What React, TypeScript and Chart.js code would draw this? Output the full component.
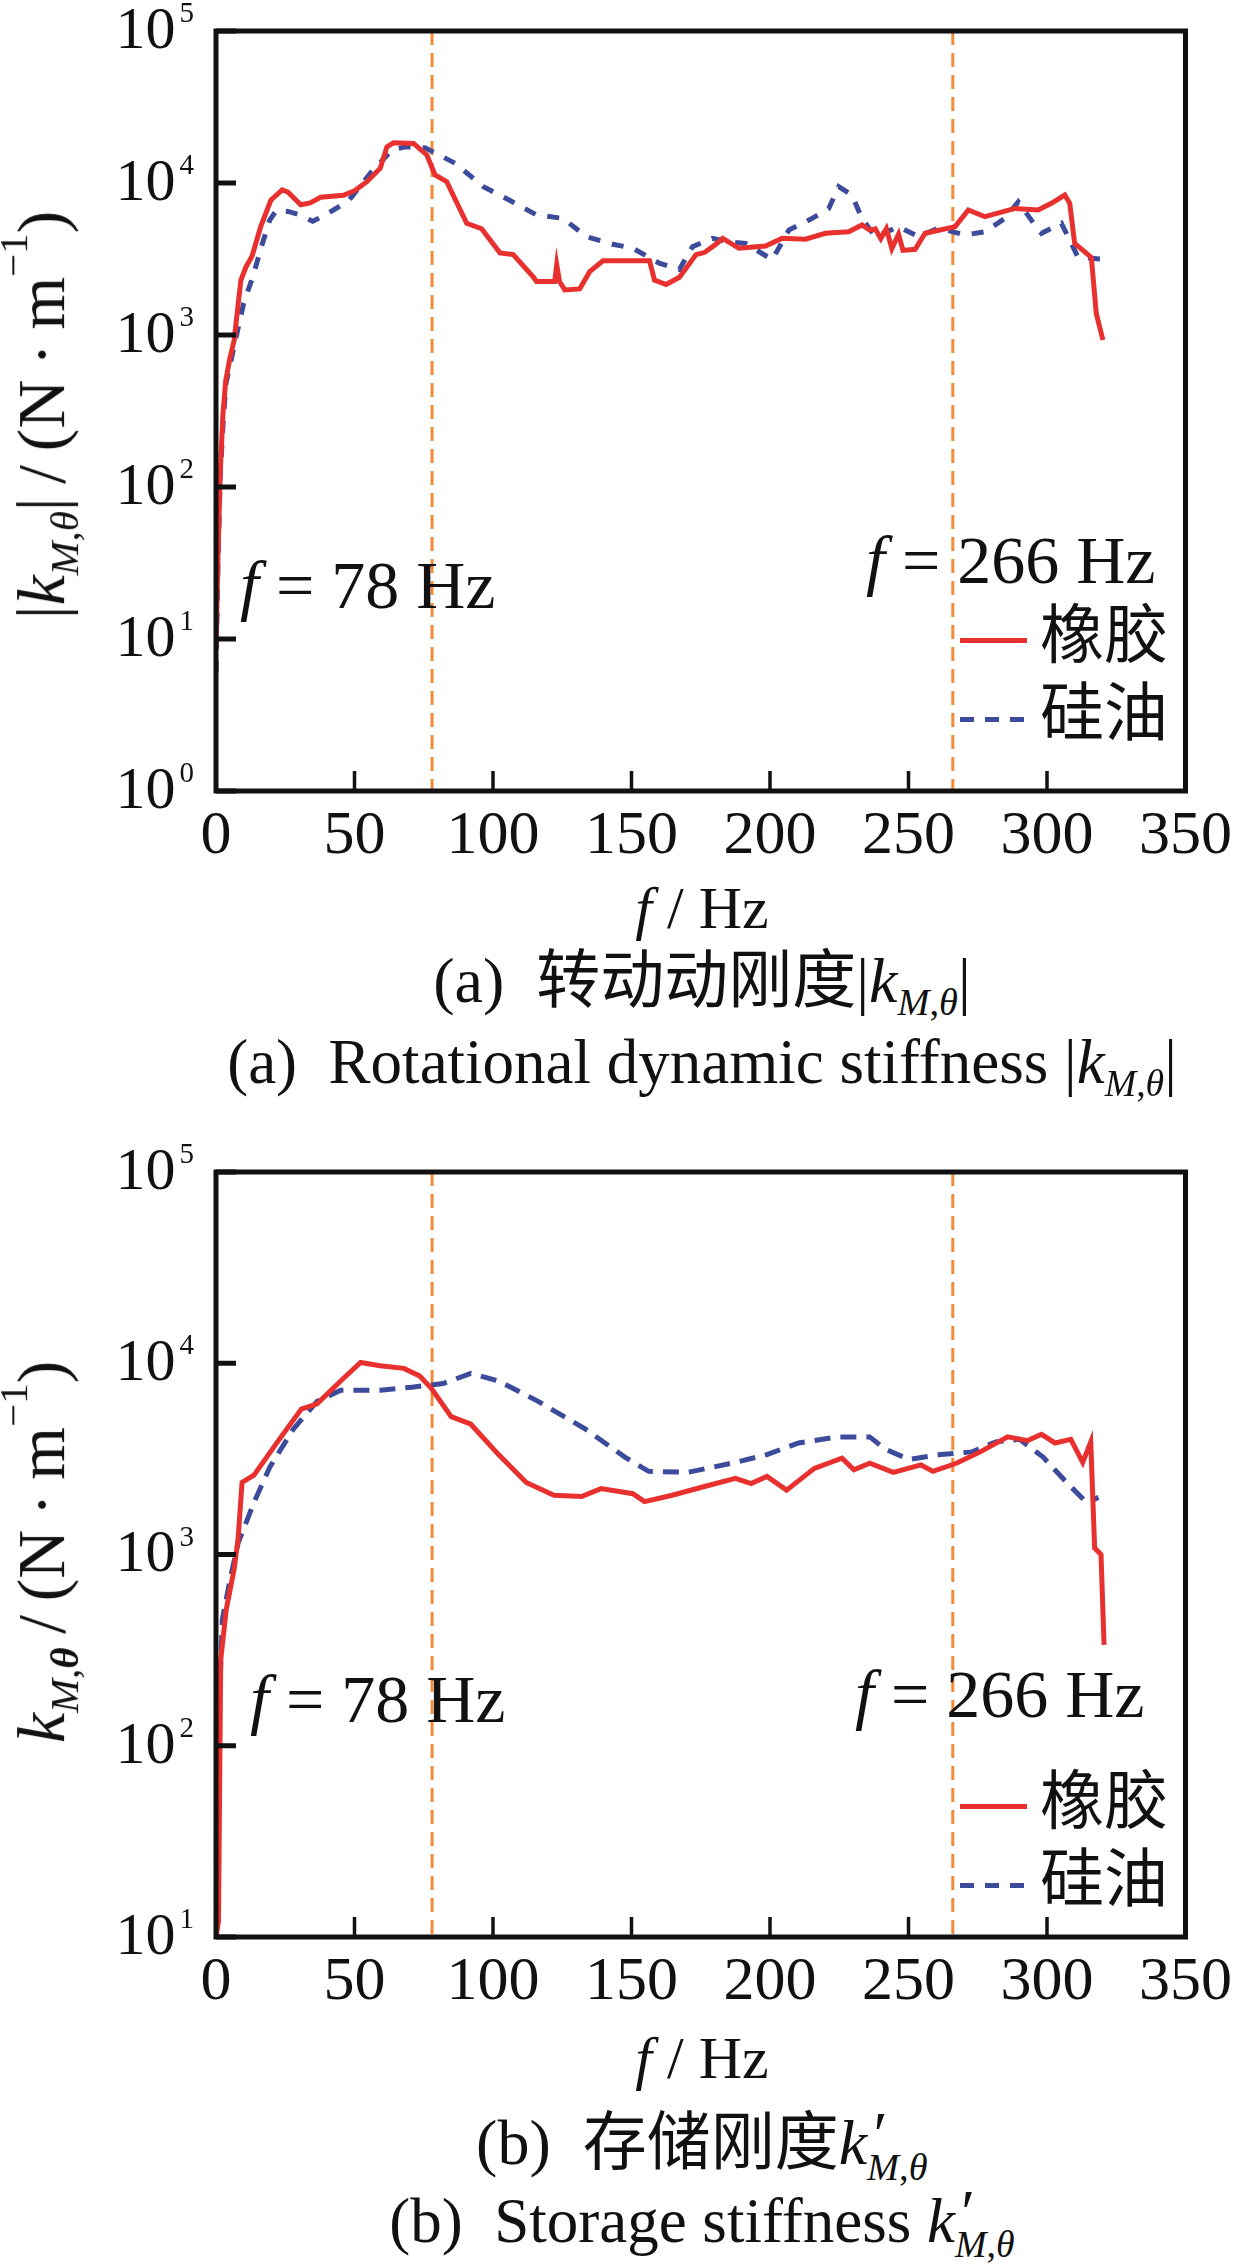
import { useEffect, useRef } from "react";
import { Chart, ChartConfiguration, registerables } from "chart.js";

Chart.register(...registerables);

const SERIF = "'Liberation Serif', 'Times New Roman', serif";
const MIXED = "'Liberation Serif', 'Noto Sans CJK SC', serif";
const INK = "#111";
const RED = "#e8312f";
const BLUE = "#3c4b9b";
const ORANGE = "#f28c3a";

// shared x axis
const xTicks = [0, 50, 100, 150, 200, 250, 300, 350];
const markerFreqs = [78, 266];

// (a) rotational dynamic stiffness |k_M,θ|
const rubberFreqA = [0, 0.8, 1.5, 2.5, 3.5, 5, 6.6, 8, 9, 10.8, 13, 16.2, 19.8, 23.9, 26, 30.6, 34, 37.8, 46, 50, 54.5, 59.3, 61.7, 64.1, 71.3, 76.1, 79.1, 83.3, 90.5, 95.9, 102.5, 107.3, 114.5, 115.7, 120.5, 122.3, 123, 124, 125.9, 131.3, 134.9, 139.7, 156.5, 158.3, 162.5, 167.3, 173.3, 176.5, 180.8, 182.9, 188.8, 198.4, 204.4, 212.8, 220, 228.4, 233.2, 236, 238, 240, 242, 244, 246.4, 248, 252.4, 256, 266.8, 271.6, 277.6, 288.4, 296.8, 301.6, 306.4, 308.2, 310, 316, 317.8, 320.2];
const rubberA = [9, 40, 120, 300, 500, 700, 930, 1600, 2300, 2800, 3300, 5200, 7700, 9000, 8700, 7200, 7400, 8050, 8300, 8900, 10200, 12500, 17300, 18400, 18200, 15300, 11300, 10200, 5430, 5000, 3470, 3380, 2410, 2250, 2250, 2250, 2900, 2250, 1980, 2010, 2610, 3080, 3080, 2300, 2150, 2400, 3380, 3500, 4000, 4330, 3720, 3850, 4330, 4270, 4670, 4780, 5300, 4900, 5000, 4300, 5000, 3700, 4600, 3600, 3660, 4670, 5160, 6640, 6000, 6800, 6640, 7350, 8330, 7350, 4000, 3240, 1380, 927];
const oilFreqA = [0, 0.7, 1.5, 2.5, 3.6, 7.6, 10, 13.4, 16.4, 19.4, 21.8, 26, 30.2, 34.9, 39.6, 48, 56.4, 63.6, 68.4, 75.6, 86.3, 96.5, 106, 115.7, 125.3, 133.7, 143.3, 150.5, 160, 167.3, 172, 179.2, 185, 191.2, 200.8, 206.8, 215.2, 221.2, 224.8, 229.6, 233.2, 238, 246.4, 253.6, 260.8, 270.4, 277.6, 284.8, 289.6, 295.6, 298, 305.2, 308.8, 311.2, 319.6];
const oilA = [6, 30, 117, 250, 480, 1030, 1620, 2450, 3810, 5710, 6600, 6500, 6170, 5600, 6170, 7700, 12000, 16500, 17300, 17000, 13500, 9450, 7700, 6170, 5850, 4440, 3950, 3720, 2970, 2700, 3810, 4330, 4100, 4000, 3130, 4900, 5850, 6800, 9450, 8330, 5850, 4440, 5160, 4440, 5050, 4550, 4780, 5850, 7520, 5300, 4670, 5430, 4000, 3240, 3160];
const decadesA = [1, 10, 100, 1000, 10000, 100000];

// (b) storage stiffness k'_M,θ
const rubberFreqB = [0, 0.9, 1.7, 3.7, 6.6, 8, 9.4, 13.7, 22.2, 30.8, 36.5, 45, 52.2, 59.3, 67.8, 73.5, 77.8, 84.9, 92, 102, 112, 122, 132, 139, 150.5, 154.7, 164.7, 176, 187.5, 193.2, 198.9, 206, 216, 226, 230.3, 236, 244.5, 254.5, 258.8, 267.3, 275.9, 285.8, 293, 298, 302.9, 308.6, 312.9, 315.8, 317.2, 319.5, 320.6];
const rubberB = [10, 12, 280, 516, 846, 1217, 2380, 2600, 3880, 5760, 6130, 8080, 10100, 9700, 9400, 8590, 7370, 5260, 4800, 3330, 2380, 2040, 2010, 2210, 2080, 1890, 2040, 2260, 2500, 2350, 2560, 2170, 2820, 3190, 2770, 3000, 2690, 2940, 2720, 3000, 3440, 4120, 3940, 4250, 3830, 4000, 3030, 3880, 1080, 1000, 337];
const oilFreqB = [0, 1.1, 2.3, 5.1, 8, 13.7, 19.4, 27.9, 36.5, 45, 59.3, 70.7, 82, 92, 102, 116.3, 133.4, 147.6, 156.2, 170.4, 187.5, 198.9, 210.3, 224.6, 236, 241.7, 250.2, 261.6, 273, 281.5, 290.1, 298.6, 307.1, 314.3, 318.6];
const oilB = [10, 152, 458, 742, 1150, 1870, 2860, 4520, 6320, 7230, 7230, 7500, 7830, 8850, 8080, 6320, 4520, 3230, 2720, 2690, 3030, 3330, 3830, 4120, 4120, 3550, 3140, 3330, 3440, 3880, 4000, 3230, 2380, 1870, 1990];
const decadesB = [10, 100, 1000, 10000, 100000];

const zip = (xs: number[], ys: number[]) => xs.map((x, i) => ({ x, y: ys[i] }));

// frame box, inward ticks, 10^n labels and the two marker lines
const framePlugin = {
  id: "frame",
  beforeDatasetsDraw(chart: any) {
    const { ctx, chartArea: a } = chart;
    const xs = chart.scales.x;
    ctx.save();
    ctx.strokeStyle = ORANGE;
    ctx.lineWidth = 3;
    ctx.setLineDash([14, 8]);
    markerFreqs.forEach((f) => {
      const px = xs.getPixelForValue(f);
      ctx.beginPath();
      ctx.moveTo(px, a.top);
      ctx.lineTo(px, a.bottom);
      ctx.stroke();
    });
    ctx.restore();
  },
  afterDraw(chart: any, _args: any, opts: any) {
    const { ctx, chartArea: a } = chart;
    const xs = chart.scales.x;
    const ys = chart.scales.y;
    ctx.save();
    ctx.strokeStyle = INK;
    ctx.lineWidth = 5;
    ctx.strokeRect(a.left, a.top, a.right - a.left, a.bottom - a.top);

    ctx.lineWidth = 3.5;
    xTicks.slice(1, -1).forEach((v) => {
      const px = xs.getPixelForValue(v);
      ctx.beginPath();
      ctx.moveTo(px, a.bottom);
      ctx.lineTo(px, a.bottom - 20);
      ctx.stroke();
    });

    ctx.lineWidth = 5;
    ctx.fillStyle = INK;
    opts.decades.forEach((v: number) => {
      const py = ys.getPixelForValue(v);
      ctx.beginPath();
      ctx.moveTo(a.left, py);
      ctx.lineTo(a.left + 20, py);
      ctx.stroke();

      const exp = String(Math.round(Math.log10(v)));
      ctx.font = `29px ${SERIF}`;
      const ew = ctx.measureText(exp).width;
      ctx.textAlign = "right";
      ctx.textBaseline = "alphabetic";
      ctx.fillText(exp, a.left - 22, py - 9);
      ctx.font = `60px ${SERIF}`;
      ctx.textBaseline = "middle";
      ctx.fillText("10", a.left - 26 - ew, py + 1);
    });
    ctx.restore();
  },
};

interface PanelProps {
  rubber: { x: number; y: number }[];
  oil: { x: number; y: number }[];
  decades: number[];
  height: number;
  padTop: number;
  padBottom: number;
  dash: number[];
}

function StiffnessChart({ rubber, oil, decades, height, padTop, padBottom, dash }: PanelProps) {
  const canvasRef = useRef<HTMLCanvasElement>(null);

  useEffect(() => {
    if (!canvasRef.current) return;

    const config: ChartConfiguration<"line"> = {
      type: "line",
      data: {
        datasets: [
          {
            label: "橡胶",
            data: rubber,
            borderColor: RED,
            borderWidth: 5,
            pointRadius: 0,
            tension: 0,
            fill: false,
          },
          {
            label: "硅油",
            data: oil,
            borderColor: BLUE,
            borderWidth: 5,
            borderDash: dash,
            pointRadius: 0,
            tension: 0,
            fill: false,
          },
        ],
      },
      options: {
        responsive: false,
        animation: false,
        events: [],
        layout: { padding: { left: 0, right: 52, top: padTop, bottom: padBottom } },
        plugins: {
          legend: { display: false },
          tooltip: { enabled: false },
          // @ts-ignore custom plugin options
          frame: { decades },
        },
        scales: {
          x: {
            type: "linear",
            min: 0,
            max: 350,
            afterBuildTicks: (s: any) => {
              s.ticks = xTicks.map((value) => ({ value }));
            },
            afterFit: (s: any) => {
              s.height = 70;
            },
            ticks: {
              font: { family: SERIF, size: 62 },
              color: INK,
              padding: 9,
              maxRotation: 0,
              autoSkip: false,
            },
            grid: { display: false, drawTicks: false },
            border: { display: false },
          },
          y: {
            type: "logarithmic",
            min: decades[0],
            max: decades[decades.length - 1],
            afterBuildTicks: (s: any) => {
              s.ticks = decades.map((value) => ({ value }));
            },
            afterFit: (s: any) => {
              s.width = 216;
            },
            ticks: { display: false },
            grid: { display: false, drawTicks: false },
            border: { display: false },
          },
        },
      },
      plugins: [framePlugin],
    };

    const chart = new Chart(canvasRef.current, config);
    return () => chart.destroy();
  }, [rubber, oil, decades, padTop, padBottom, dash]);

  return <canvas ref={canvasRef} width={1241} height={height} style={{ display: "block", width: 1241, height }} />;
}

const abs = (x: number, y: number, size: number, center = true): React.CSSProperties => ({
  position: "absolute",
  left: x,
  top: y,
  fontSize: size,
  lineHeight: 1,
  whiteSpace: "nowrap",
  transform: center ? "translate(-50%, -50%)" : "translateY(-50%)",
});

const Sub = ({ children }: { children: React.ReactNode }) => (
  <span style={{ fontSize: "0.6em", verticalAlign: "-0.35em" }}>{children}</span>
);
const Sup = ({ children }: { children: React.ReactNode }) => (
  <span style={{ fontSize: "0.6em", verticalAlign: "0.9em" }}>{children}</span>
);
// prime stacked over the M,θ subscript
const PrimeSub = () => (
  <span
    style={{
      display: "inline-block",
      position: "relative",
      width: "0.95em",
      height: "1.3em",
      verticalAlign: "-0.35em",
    }}
  >
    <span style={{ position: "absolute", left: "0.1em", top: 0 }}>′</span>
    <span style={{ position: "absolute", left: 0, top: "1.17em", fontSize: "0.6em" }}>
      <i>M</i>,<i>θ</i>
    </span>
  </span>
);

function Legend({ top }: { top: number }) {
  return (
    <>
      <div style={{ position: "absolute", left: 960, top: top - 2, width: 67, height: 5, background: RED }} />
      <div style={abs(1040, top - 4, 64, false)}>橡胶</div>
      <div
        style={{
          position: "absolute",
          left: 960,
          top: top + 77,
          width: 67,
          height: 5,
          background: `repeating-linear-gradient(90deg, ${BLUE} 0 14px, transparent 14px 25px)`,
        }}
      />
      <div style={abs(1040, top + 74, 64, false)}>硅油</div>
    </>
  );
}

export default function App() {
  return (
    <div
      style={{
        position: "absolute",
        left: 0,
        top: 0,
        width: 1241,
        height: 2264,
        background: "#fff",
        color: INK,
        fontFamily: MIXED,
        overflow: "hidden",
      }}
    >
      <div style={{ position: "absolute", left: 0, top: 0 }}>
        <StiffnessChart
          rubber={zip(rubberFreqA, rubberA)}
          oil={zip(oilFreqA, oilA)}
          decades={decadesA}
          height={880}
          padTop={31}
          padBottom={19}
          dash={[12, 12]}
        />
      </div>
      <div style={{ position: "absolute", left: 0, top: 1100 }}>
        <StiffnessChart
          rubber={zip(rubberFreqB, rubberB)}
          oil={zip(oilFreqB, oilB)}
          decades={decadesB}
          height={920}
          padTop={72}
          padBottom={13}
          dash={[16, 10]}
        />
      </div>

      {/* panel (a) */}
      <div style={{ ...abs(40, 415, 68), transform: "translate(-50%, -50%) rotate(-90deg)" }}>
        |<i>k</i>
        <Sub>
          <i>M</i>,<i>θ</i>
        </Sub>
        |&thinsp;/&thinsp;(N&thinsp;·&thinsp;m<Sup>−1</Sup>)
      </div>
      <div style={abs(240, 585, 68, false)}>
        <i>f</i> = 78 Hz
      </div>
      <div style={abs(866, 560, 68, false)}>
        <i>f</i> = 266 Hz
      </div>
      <Legend top={640} />
      <div style={abs(702, 908, 60)}>
        <i>f</i> / Hz
      </div>
      <div style={abs(702, 985, 64)}>
        (a)&nbsp; 转动动刚度|<i>k</i>
        <Sub>
          <i>M</i>,<i>θ</i>
        </Sub>
        |
      </div>
      <div style={abs(702, 1067, 63)}>
        (a)&nbsp; Rotational dynamic stiffness |<i>k</i>
        <Sub>
          <i>M</i>,<i>θ</i>
        </Sub>
        |
      </div>

      {/* panel (b) */}
      <div style={{ ...abs(40, 1552, 68), transform: "translate(-50%, -50%) rotate(-90deg)" }}>
        <i>k</i>
        <Sub>
          <i>M</i>,<b>
            <i>θ</i>
          </b>
        </Sub>
        &thinsp;/&thinsp;(N&thinsp;·&thinsp;m<Sup>−1</Sup>)
      </div>
      <div style={abs(250, 1699, 68, false)}>
        <i>f</i> = 78 Hz
      </div>
      <div style={abs(855, 1694, 68, false)}>
        <i>f</i> = 266 Hz
      </div>
      <Legend top={1806} />
      <div style={abs(702, 2058, 60)}>
        <i>f</i> / Hz
      </div>
      <div style={abs(702, 2145, 64)}>
        (b)&nbsp; 存储刚度<i>k</i>
        <PrimeSub />
      </div>
      <div style={abs(702, 2223, 63)}>
        (b)&nbsp; Storage stiffness <i>k</i>
        <PrimeSub />
      </div>
    </div>
  );
}
